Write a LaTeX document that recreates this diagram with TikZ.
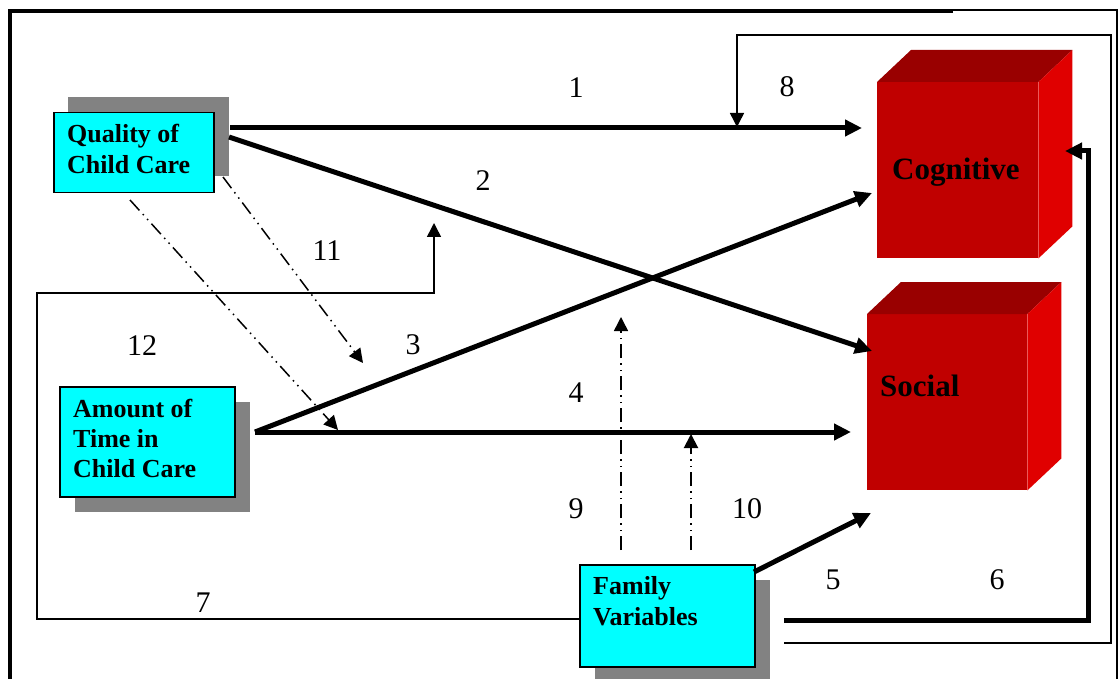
\documentclass[tikz,border=0pt]{standalone}
\usepackage{fontspec}
\setmainfont{Liberation Serif}
\usetikzlibrary{arrows.meta,calc}
\definecolor{boxcyan}{RGB}{0,255,255}
\definecolor{cubefront}{RGB}{192,0,0}
\definecolor{cubetop}{RGB}{153,0,0}
\definecolor{cubeside}{RGB}{224,0,0}
\definecolor{shadowgray}{RGB}{130,130,130}
\tikzset{
 shadowbox/.style={draw=none, fill=shadowgray, inner sep=0pt, anchor=north west},
 cyanbox/.style={draw=black, line width=1.5pt, fill=boxcyan, inner sep=0pt, anchor=north west},
 boxtext/.style={font=\fontsize{26}{31}\selectfont\bfseries, anchor=base west, inner sep=0pt},
 numlabel/.style={font=\fontsize{30}{36}\selectfont, anchor=base, inner sep=0pt},
 cubetext/.style={font=\fontsize{31}{37}\selectfont\bfseries, anchor=base west, inner sep=0pt},
 cubeface/.style={draw=none, fill=cubefront, inner sep=0pt, anchor=north west},
 thickarrow/.style={line width=5pt, -{Triangle[length=17pt,width=16pt]}},
 thinarrow/.style={line width=1.5pt, -{Triangle[length=14pt,width=14pt]}},
 dashdot/.style={line width=1.5pt, dash pattern=on 14pt off 5pt on 1.5pt off 5pt on 1.5pt off 5pt, -{Triangle[length=14pt,width=14pt]}},
}
\begin{document}
\begin{tikzpicture}[x=1pt,y=-1pt]
\useasboundingbox (0,0) rectangle (1119,679);
% outer frame
\draw[line width=4pt] (10,679) -- (10,11) -- (953,11);
\draw[line width=1.5pt] (953,10) -- (1117,10) -- (1117,679);

% cubes
\node[cubeface, minimum width=161pt, minimum height=176pt] (cog) at (877,82) {};
\fill[cubetop] (cog.north west) -- ++(34,-32) -- ($(cog.north east)+(34,-32)$) -- (cog.north east) -- cycle;
\fill[cubeside] (cog.north east) -- ++(34,-32) -- ($(cog.south east)+(34,-32)$) -- (cog.south east) -- cycle;
\node[cubetext] (cogt) at (892,180) {Cognitive};

\node[cubeface, minimum width=160pt, minimum height=176pt] (soc) at (867,314) {};
\fill[cubetop] (soc.north west) -- ++(34,-32) -- ($(soc.north east)+(34,-32)$) -- (soc.north east) -- cycle;
\fill[cubeside] (soc.north east) -- ++(34,-32) -- ($(soc.south east)+(34,-32)$) -- (soc.south east) -- cycle;
\node[cubetext] (soct) at (880,396) {Social};

% boxes with shadows
\node[shadowbox, minimum width=161pt, minimum height=79pt] (qs) at (68,97) {};
\node[cyanbox, minimum width=160pt, minimum height=80pt] (qual) at (53,112) {};
\node[boxtext] (qt1) at (67,143) {Quality of};
\node[boxtext] (qt2) at (67,174) {Child Care};

\node[shadowbox, minimum width=175pt, minimum height=110pt] (as) at (75,402) {};
\node[cyanbox, minimum width=175pt, minimum height=110pt] (amt) at (59,386) {};
\node[boxtext] (at1) at (73,417) {Amount of};
\node[boxtext] (at2) at (73,447) {Time in};
\node[boxtext] (at3) at (73,477) {Child Care};

\node[shadowbox, minimum width=175pt, minimum height=110pt] (fs) at (595,580) {};
\node[cyanbox, minimum width=175pt, minimum height=102pt] (fam) at (579,564) {};
\node[boxtext] (ft1) at (593,594) {Family};
\node[boxtext] (ft2) at (593,625) {Variables};

% connector end points
\coordinate (q1) at (230,128);
\coordinate (c1) at (862,128);
\coordinate (q2) at (229,137);
\coordinate (s2) at (872,351);
\coordinate (a3) at (255,432);
\coordinate (c3) at (872,193);
\coordinate (s4) at (851,432);
\coordinate (f5) at (754,572);
\coordinate (s5) at (871,513);
\coordinate (f6) at (784,620);
\coordinate (c6) at (1065,151);
\coordinate (f7) at (579,619);
\coordinate (m7) at (434,223);
\coordinate (f8) at (784,643);
\coordinate (m8) at (737,127);
\coordinate (f9) at (621,550);
\coordinate (m9) at (621,317);
\coordinate (f10) at (691,550);
\coordinate (m10) at (691,434);
\coordinate (q11) at (223,177);
\coordinate (m11) at (363,363);
\coordinate (q12) at (130,200);
\coordinate (m12) at (338,430);

% connectors
\draw[thickarrow] (q1) -- (c1);
\draw[thickarrow] (q2) -- (s2);
\draw[thickarrow] (a3) -- (c3);
\draw[thickarrow] (a3) -- (s4);
\draw[thickarrow] (f5) -- (s5);
\draw[thickarrow, line join=miter] (f6) -- (1088,620) -- (1088,151) -- (c6);
\draw[thinarrow, line join=miter] (f7) -- (37,619) -- (37,293) -- (434,293) -- (m7);
\draw[thinarrow, line join=miter] (f8) -- (1111,643) -- (1111,35) -- (737,35) -- (m8);
\draw[dashdot] (f9) -- (m9);
\draw[dashdot, line width=2pt] (f10) -- (m10);
\draw[dashdot] (q11) -- (m11);
\draw[dashdot] (q12) -- (m12);

% labels
\node[numlabel] (l1) at (576,98) {1};
\node[numlabel] (l2) at (483,191) {2};
\node[numlabel] (l3) at (413,354) {3};
\node[numlabel] (l4) at (576,402) {4};
\node[numlabel] (l5) at (833,589) {5};
\node[numlabel] (l6) at (997,589) {6};
\node[numlabel] (l7) at (203,612) {7};
\node[numlabel] (l8) at (787,97) {8};
\node[numlabel] (l9) at (576,518) {9};
\node[numlabel] (l10) at (747,518) {10};
\node[numlabel] (l11) at (327,260) {11};
\node[numlabel] (l12) at (142,355) {12};
\end{tikzpicture}
\end{document}
